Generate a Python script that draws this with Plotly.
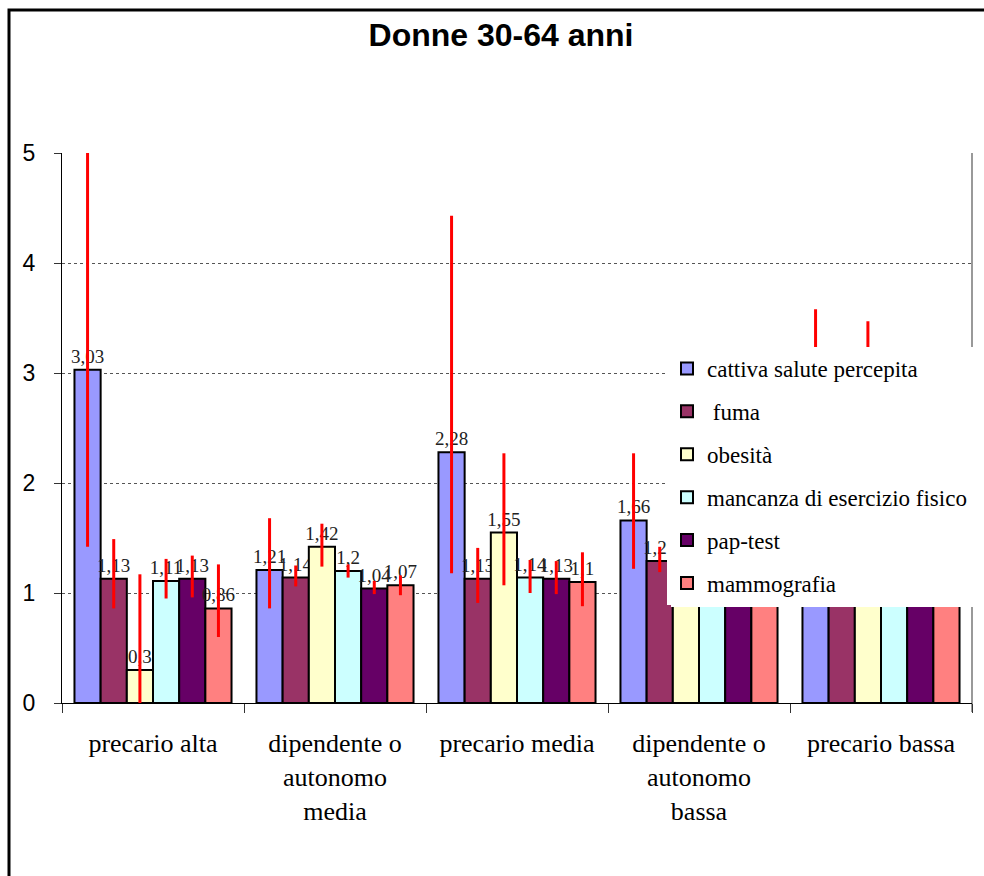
import plotly.graph_objects as go

categories = [
    "precario alta",
    "dipendente o<br>autonomo<br>media",
    "precario media",
    "dipendente o<br>autonomo<br>bassa",
    "precario bassa",
]

series_names = [
    "cattiva salute percepita",
    " fuma",
    "obesità",
    "mancanza di esercizio fisico",
    "pap-test",
    "mammografia",
]

cattiva = [3.03, 1.21, 2.28, 1.66, 2.00]
fuma = [1.13, 1.14, 1.13, 1.29, 1.20]
obesita = [0.3, 1.42, 1.55, 1.30, 1.80]
mancanza = [1.11, 1.2, 1.14, 1.15, 1.10]
paptest = [1.13, 1.04, 1.13, 1.10, 1.10]
mammografia = [0.86, 1.07, 1.1, 1.05, 1.10]

# confidence interval bounds (upper, lower)
cattiva_hi = [6.50, 1.68, 4.43, 2.27, 3.58]
cattiva_lo = [1.42, 0.86, 1.18, 1.22, 1.10]
fuma_hi = [1.49, 1.25, 1.41, 1.42, 1.60]
fuma_lo = [0.86, 1.06, 0.91, 1.19, 0.95]
obesita_hi = [1.17, 1.63, 2.27, 1.70, 3.47]
obesita_lo = [0.0, 1.24, 1.07, 1.00, 1.00]
mancanza_hi = [1.31, 1.26, 1.30, 1.35, 1.40]
mancanza_lo = [0.95, 1.14, 1.00, 0.98, 0.95]
paptest_hi = [1.34, 1.11, 1.29, 1.30, 1.35]
paptest_lo = [0.96, 0.99, 0.99, 0.95, 0.95]
mammo_hi = [1.26, 1.16, 1.37, 1.30, 1.40]
mammo_lo = [0.60, 0.98, 0.88, 0.93, 0.95]

values = [cattiva, fuma, obesita, mancanza, paptest, mammografia]
highs = [cattiva_hi, fuma_hi, obesita_hi, mancanza_hi, paptest_hi, mammo_hi]
lows = [cattiva_lo, fuma_lo, obesita_lo, mancanza_lo, paptest_lo, mammo_lo]
colors = ["#9999FF", "#993366", "#FFFFCC", "#CCFFFF", "#660066", "#FF8080"]

y_ticks = [0, 1, 2, 3, 4, 5]

SERIF = "Liberation Serif, Times New Roman, serif"
SANS = "Liberation Sans, Arial, sans-serif"

fig = go.Figure()
for i, (name, vals, hi, lo, col) in enumerate(zip(series_names, values, highs, lows, colors)):
    fig.add_trace(go.Bar(
        name=name,
        x=categories,
        y=vals,
        marker=dict(color=col, line=dict(color="black", width=2)),
        text=[str(v).replace(".", ",") for v in vals],
        textposition="outside",
        constraintext="none",
        cliponaxis=False,
        textfont=dict(family=SERIF, size=19, color="#222222"),
        error_y=dict(
            type="data",
            symmetric=False,
            array=[h - v for h, v in zip(hi, vals)],
            arrayminus=[v - l for v, l in zip(vals, lo)],
            color="#FF0000",
            thickness=3,
            width=0,
        ),
        legendgroup=f"g{i}",
    ))

# plot area geometry (px): left 62, right 972, top 153, bottom 703
W, H = 984, 876
L, R, T, B = 62, 12, 153, 173
pw, ph = W - L - R, H - T - B

def px(x):
    return (x - L) / pw

def py(y):
    return (H - B - y) / ph

shapes = [
    # outer frame
    dict(type="rect", xref="paper", yref="paper",
         x0=px(9), x1=px(1000), y0=py(10), y1=py(900),
         line=dict(color="black", width=3), layer="below"),
    # plot area right border
    dict(type="line", xref="paper", yref="paper",
         x0=1, x1=1, y0=py(712), y1=1,
         line=dict(color="#999999", width=2), layer="below"),
    # legend white background
    dict(type="rect", xref="paper", yref="paper",
         x0=px(671), x1=px(1000), y0=py(347), y1=py(607),
         fillcolor="white", line=dict(width=0), layer="above"),
]

fig.update_layout(
    width=W, height=H,
    margin=dict(l=L, r=R, t=T, b=B),
    paper_bgcolor="white",
    plot_bgcolor="white",
    barmode="group",
    bargap=0.137,
    bargroupgap=0,
    title=dict(
        text="<b>Donne 30-64 anni</b>",
        x=501 / W, xanchor="center",
        y=1 - 35 / H, yanchor="middle",
        font=dict(family=SANS, size=32, color="black"),
    ),
    xaxis=dict(
        type="category",
        tickson="boundaries",
        ticks="outside",
        ticklen=9,
        tickcolor="#333333",
        showline=True,
        linecolor="black",
        linewidth=1,
        showgrid=False,
        ticklabelstandoff=17,
        tickfont=dict(family=SERIF, size=26, color="black"),
    ),
    yaxis=dict(
        range=[0, 5],
        tickvals=y_ticks,
        ticktext=[str(t) for t in y_ticks],
        ticks="outside",
        ticklen=7,
        tickcolor="#333333",
        showline=True,
        linecolor="black",
        linewidth=1,
        showgrid=True,
        gridcolor="#555555",
        griddash="dot",
        gridwidth=1,
        zeroline=False,
        ticklabelstandoff=14,
        tickfont=dict(family=SANS, size=23, color="black"),
    ),
    legend=dict(
        x=px(667), xanchor="left",
        y=py(347), yanchor="top",
        bgcolor="white",
        borderwidth=0,
        tracegroupgap=10,
        font=dict(family=SERIF, size=23, color="black"),
    ),
    shapes=shapes,
)

fig.write_html(
    "out.html",
    config={"displayModeBar": False},
    post_script="document.body.style.margin='0';",
)
